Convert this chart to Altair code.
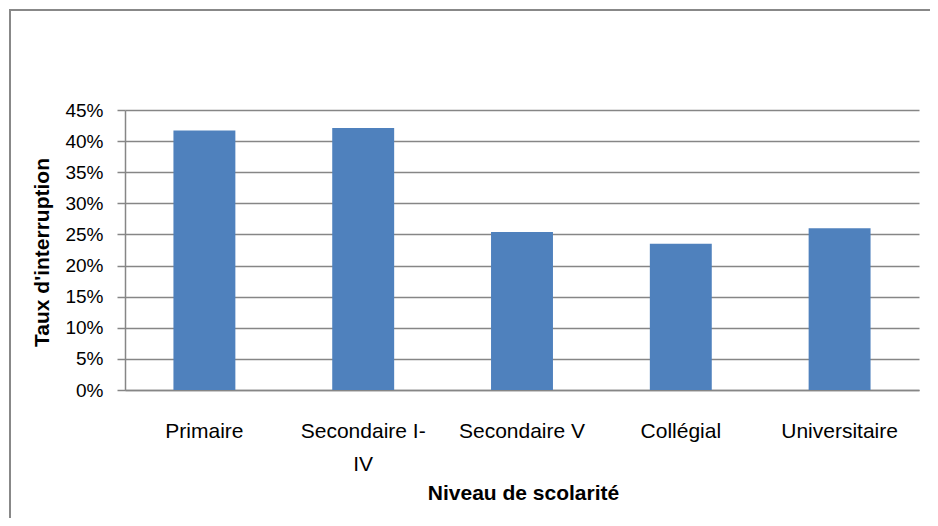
import altair as alt
import pandas as pd

categories = ["Primaire", "Secondaire I-IV", "Secondaire V", "Collégial", "Universitaire"]
values = [0.417, 0.421, 0.254, 0.235, 0.260]
y_ticks = [0, 0.05, 0.10, 0.15, 0.20, 0.25, 0.30, 0.35, 0.40, 0.45]

df = pd.DataFrame({"niveau": categories, "taux": values})

FONT = "Liberation Sans"
GRID = "#868686"

bars = alt.Chart(df).mark_bar(color="#4F81BD").encode(
    x=alt.X(
        "niveau:N",
        sort=categories,
        scale=alt.Scale(paddingInner=0.61, paddingOuter=0.305),
        axis=alt.Axis(
            title="Niveau de scolarité",
            labelAngle=0,
            labelFont=FONT,
            labelFontSize=21,
            labelColor="#000000",
            labelPadding=30,
            labelLineHeight=33,
            labelExpr="datum.label == 'Secondaire I-IV' ? ['Secondaire I-', 'IV'] : datum.label",
            ticks=False,
            tickSize=0,
            domainColor=GRID,
            domainWidth=1.5,
            titleFont=FONT,
            titleFontSize=21,
            titleFontWeight="bold",
            titleColor="#000000",
            titleX=398,
            titleY=103,
            titleAlign="center",
            titleBaseline="middle",
        ),
    ),
    y=alt.Y(
        "taux:Q",
        scale=alt.Scale(domain=[0, 0.45], nice=False),
        axis=alt.Axis(
            title="Taux d'interruption",
            values=y_ticks,
            format=".0%",
            labelFont=FONT,
            labelFontSize=19,
            labelColor="#000000",
            labelPadding=14,
            tickSize=8,
            tickColor=GRID,
            tickWidth=1.5,
            domainColor=GRID,
            domainWidth=1.5,
            gridColor=GRID,
            gridWidth=1.5,
            titleFont=FONT,
            titleFontSize=21,
            titleFontWeight="bold",
            titleColor="#000000",
            titleAngle=270,
            titleX=-83,
            titleY=142,
            titleAlign="center",
            titleBaseline="middle",
        ),
    ),
)

frame_data = alt.Data(values=[{"f": 1}])
frame_left = alt.Chart(frame_data).mark_rule(color="#888888", strokeWidth=2).encode(
    x=alt.value(-115),
    y=alt.value(-101),
    y2=alt.value(440),
)
frame_top = alt.Chart(frame_data).mark_rule(color="#888888", strokeWidth=2).encode(
    x=alt.value(-116),
    x2=alt.value(840),
    y=alt.value(-100),
)

chart = alt.layer(frame_left, frame_top, bars).properties(
    width=794,
    height=280,
    padding={"left": 117, "top": 102, "right": 11, "bottom": 128},
    autosize=alt.AutoSizeParams(type="none"),
    background="white",
).configure_view(stroke=None)

chart.save("out.html", embed_options={"renderer": "svg", "actions": False})
